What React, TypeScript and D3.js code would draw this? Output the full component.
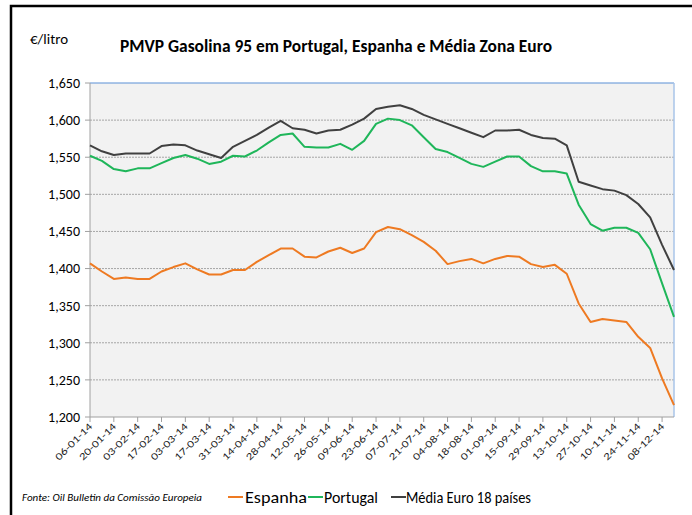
import React from "react";
import * as d3 from "d3";

const dates = [
  "06-01-14","13-01-14","20-01-14","27-01-14","03-02-14","10-02-14","17-02-14","24-02-14",
  "03-03-14","10-03-14","17-03-14","24-03-14","31-03-14","07-04-14","14-04-14","21-04-14",
  "28-04-14","05-05-14","12-05-14","19-05-14","26-05-14","02-06-14","09-06-14","16-06-14",
  "23-06-14","30-06-14","07-07-14","14-07-14","21-07-14","28-07-14","04-08-14","11-08-14",
  "18-08-14","25-08-14","01-09-14","08-09-14","15-09-14","22-09-14","29-09-14","06-10-14",
  "13-10-14","20-10-14","27-10-14","03-11-14","10-11-14","17-11-14","24-11-14","01-12-14",
  "08-12-14","15-12-14"
];

const espanha = [
  1.407,1.396,1.386,1.388,1.386,1.386,1.396,1.402,1.407,1.399,
  1.392,1.392,1.398,1.398,1.409,1.418,1.427,1.427,1.416,1.415,
  1.423,1.428,1.421,1.427,1.449,1.456,1.453,1.445,1.436,1.424,
  1.406,1.410,1.413,1.407,1.413,1.417,1.416,1.406,1.402,1.405,
  1.393,1.353,1.328,1.332,1.330,1.328,1.308,1.293,1.252,1.216
];

const portugal = [
  1.552,1.545,1.534,1.531,1.535,1.535,1.542,1.549,1.553,1.548,
  1.541,1.544,1.552,1.551,1.559,1.570,1.580,1.582,1.564,1.563,
  1.563,1.568,1.560,1.572,1.595,1.602,1.600,1.593,1.577,1.561,
  1.557,1.549,1.541,1.537,1.544,1.551,1.551,1.538,1.531,1.531,
  1.528,1.486,1.460,1.451,1.455,1.455,1.448,1.426,1.380,1.335
];

const euro = [
  1.566,1.558,1.553,1.555,1.555,1.555,1.565,1.567,1.566,1.559,
  1.554,1.549,1.564,1.572,1.580,1.590,1.599,1.589,1.587,1.582,
  1.586,1.587,1.594,1.602,1.615,1.618,1.620,1.615,1.607,1.601,
  1.595,1.589,1.583,1.577,1.586,1.586,1.587,1.580,1.576,1.575,
  1.566,1.517,1.512,1.507,1.505,1.499,1.487,1.469,1.432,1.398
];

const yTicks = [1.2, 1.25, 1.3, 1.35, 1.4, 1.45, 1.5, 1.55, 1.6, 1.65];

const seriesNames = ["Espanha", "Portugal", "Média Euro 18 países"];
const seriesColors = ["#ee7a22", "#1fb65a", "#404040"];

const W = 692, H = 515;
const left = 90, right = 674, top = 83, bottom = 417;
const FONT = "Carlito, 'Liberation Sans Narrow', 'Open Sans', Arial, sans-serif";

export default function App() {
  const x = d3.scalePoint<string>().domain(dates).range([left, right]);
  const y = d3.scaleLinear().domain([1.2, 1.65]).range([bottom, top]);
  const locale = d3.formatLocale({ decimal: ",", thousands: ".", grouping: [3], currency: ["", "€"] });
  const fmt = locale.format(".3f");
  const line = d3.line<number>().x((_, i) => x(dates[i]) as number).y((d) => y(d));
  const all = [espanha, portugal, euro];

  return (
    <div style={{ position: "absolute", left: 0, top: 0 }}>
      <svg width={W} height={H} style={{ display: "block", background: "#fff" }}>
        <rect x={11} y={6} width={720} height={560} fill="none" stroke="#000" strokeWidth={2.5} />
        <text x={30} y={44} fontFamily={FONT} fontSize={14} fill="#000" textLength={38} lengthAdjust="spacingAndGlyphs">€/litro</text>
        <text x={120} y={52} fontFamily={FONT} fontSize={18} fontWeight="bold" fill="#000" textLength={432} lengthAdjust="spacingAndGlyphs">
          PMVP Gasolina 95 em Portugal, Espanha e Média Zona Euro
        </text>

        <rect x={left} y={top} width={right - left} height={bottom - top} fill="#f2f2f2" />
        {yTicks.slice(1, -1).map((t) => (
          <line key={t} x1={left} x2={right} y1={y(t)} y2={y(t)} stroke="#a6a6a6" strokeWidth={1} strokeDasharray="2,1" />
        ))}
        <line x1={left} x2={right} y1={top} y2={top} stroke="#5b8fd6" strokeWidth={1.2} />
        <line x1={right} x2={right} y1={top} y2={bottom} stroke="#a9c4e8" strokeWidth={1.5} />
        <line x1={left} x2={left} y1={top} y2={bottom} stroke="#a0a0a0" strokeWidth={1} />
        <line x1={left} x2={right} y1={bottom} y2={bottom} stroke="#a0a0a0" strokeWidth={1} />

        {yTicks.map((t) => (
          <g key={t}>
            <line x1={left - 5} x2={left} y1={y(t)} y2={y(t)} stroke="#a0a0a0" />
            <text x={left - 10} y={y(t)} dy="0.35em" textAnchor="end" fontFamily={FONT} fontSize={14} fill="#000">
              {fmt(t)}
            </text>
          </g>
        ))}

        {dates.map((d, i) =>
          i % 2 === 0 ? (
            <g key={d}>
              <line x1={x(d)} x2={x(d)} y1={bottom} y2={bottom + 5} stroke="#a0a0a0" />
              <text
                transform={`translate(${(x(d) as number) + 3},${bottom + 10}) rotate(-45)`}
                textAnchor="end"
                fontFamily={FONT}
                fontSize={10}
                fill="#222"
                textLength={48}
                lengthAdjust="spacingAndGlyphs"
              >
                {d}
              </text>
            </g>
          ) : null
        )}

        {all.map((s, k) => (
          <path key={k} d={line(s) || ""} fill="none" stroke={seriesColors[k]} strokeWidth={2} strokeLinejoin="round" />
        ))}

        <text x={22} y={501} fontFamily={FONT} fontSize={11} fontStyle="italic" fill="#000" textLength={180} lengthAdjust="spacingAndGlyphs">
          Fonte: Oil Bulletin  da Comissão Europeia
        </text>
        {[
          { lx: 228, tx: 245, tw: 62 },
          { lx: 308, tx: 324, tw: 54 },
          { lx: 391, tx: 406, tw: 125 },
        ].map((p, k) => (
          <g key={k}>
            <line x1={p.lx} x2={p.lx + 15} y1={497} y2={497} stroke={seriesColors[k]} strokeWidth={2} />
            <text x={p.tx} y={503} fontFamily={FONT} fontSize={16} fill="#000" textLength={p.tw} lengthAdjust="spacingAndGlyphs">
              {seriesNames[k]}
            </text>
          </g>
        ))}
      </svg>
    </div>
  );
}
